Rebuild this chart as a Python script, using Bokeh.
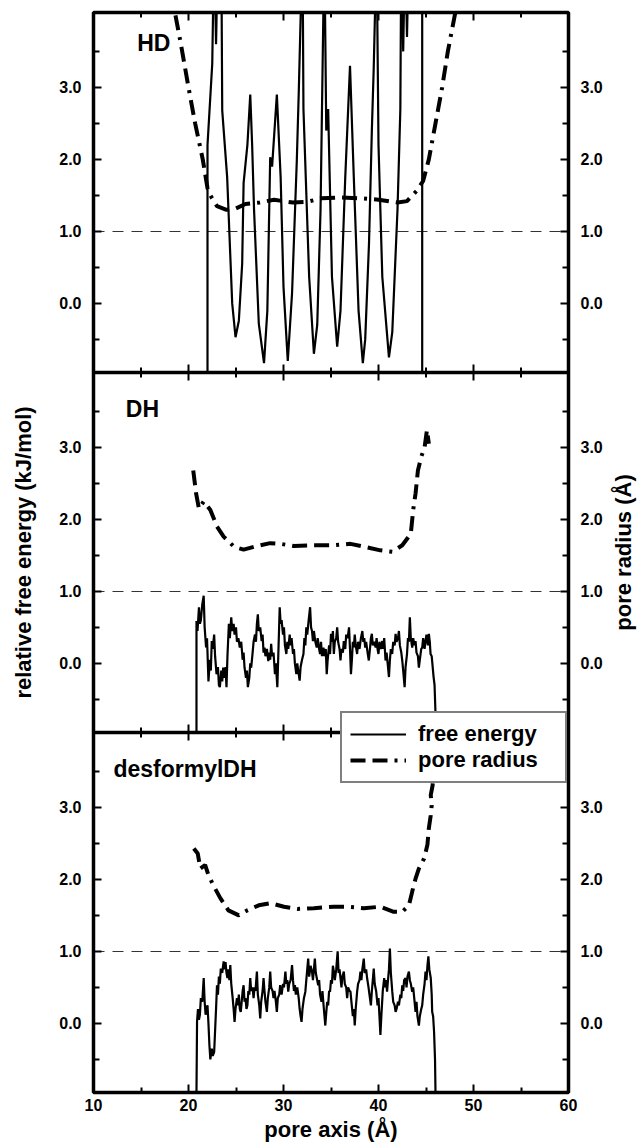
import math
from bokeh.plotting import figure
from bokeh.layouts import row
from bokeh.models import (Range1d, LinearAxis, FixedTicker, CustomJSTickFormatter,
                          Label, Span, Legend, LegendItem)
from bokeh.embed import file_html
from bokeh.resources import INLINE

# ---------------- data ----------------
X_TICKS = [10, 20, 30, 40, 50, 60]
X_MINOR = [15, 25, 35, 45, 55]
Y_TICKS = [0, 1, 2, 3]
Y_MINOR = [-0.5, 0.5, 1.5, 2.5, 3.5]
REF_LEVEL = 1.0
PANELS = ["HD", "DH", "desformylDH"]

# HD: free energy (x, kJ/mol) and pore radius (x, Å)
HD_FREE_ENERGY = [
    (22.0, -0.96), (22.0, 2.2), (22.5, 3.33), (22.7, 5.0), (22.9, 3.6), (23.1, 5.0),
    (23.3, 4.2), (23.45, 5.0), (23.55, 2.68), (24.07, 1.75), (24.6, 0.0), (24.95, -0.47),
    (25.3, -0.24), (25.65, 0.55), (25.8, 1.67), (26.2, 2.2), (26.5, 2.9), (26.7, 2.2),
    (26.9, 1.3), (27.4, -0.28), (27.95, -0.83), (28.3, -0.1), (28.6, 2.03), (28.8, 1.9),
    (29.3, 2.9), (29.7, 1.75), (30.0, 0.23), (30.45, -0.8), (30.9, 0.14), (31.4, 1.98),
    (31.6, 2.9), (32.0, 5.0), (32.1, 2.7), (32.7, 0.37), (33.2, -0.7), (33.55, -0.3),
    (33.9, 1.3), (34.3, 5.0), (34.5, 2.4), (34.7, 2.7), (35.1, 0.37), (35.65, -0.6),
    (36.0, -0.1), (36.5, 1.75), (37.0, 3.3), (37.4, 1.75), (37.9, -0.1), (38.35, -0.83),
    (38.6, -0.5), (39.0, 0.83), (39.3, 2.4), (39.5, 3.28), (39.8, 5.0), (40.0, 2.2),
    (40.4, 0.37), (41.1, -0.75), (41.45, -0.4), (42.0, 1.3), (42.3, 2.7), (42.4, 5.0),
    (42.6, 3.5), (42.8, 5.0), (43.0, 3.7), (43.2, 5.0), (44.6, 5.0), (44.6, -0.96),
]
HD_PORE_RADIUS = [
    (18.2, 4.3), (19.2, 3.6), (20.0, 3.0), (20.7, 2.5), (21.5, 2.0), (22.0, 1.6),
    (22.3, 1.5), (23.0, 1.35), (24.0, 1.3), (25.0, 1.32), (26.0, 1.38), (27.5, 1.4),
    (29.0, 1.44), (31.0, 1.4), (32.5, 1.41), (34.0, 1.46), (36.0, 1.47), (38.0, 1.46),
    (40.0, 1.44), (42.0, 1.4), (43.0, 1.42), (44.0, 1.56), (44.7, 1.7), (45.3, 2.0),
    (46.0, 2.5), (46.7, 3.0), (47.3, 3.5), (48.1, 4.05), (48.3, 4.3),
]

DH_FREE_ENERGY = [
    (20.84, -0.96), (20.84, 0.59), (20.95, 0.45), (21.1, 0.78), (21.2, 0.55), (21.3, 0.6),
    (21.45, 0.82), (21.6, 0.94), (21.7, 0.5), (21.85, 0.22), (21.95, 0.35), (22.1, -0.25),
    (22.25, 0.05), (22.35, -0.1), (22.45, 0.31), (22.55, 0.2), (22.7, 0.4), (22.8, 0.1),
    (22.95, -0.15), (23.1, -0.05), (23.2, -0.3), (23.3, -0.33), (23.45, -0.1), (23.55, -0.25),
    (23.65, -0.06), (23.8, -0.2), (23.9, -0.05), (24.0, -0.33), (24.1, 0.1), (24.25, 0.55),
    (24.35, 0.35), (24.5, 0.64), (24.6, 0.45), (24.75, 0.55), (24.85, 0.4), (25.0, 0.5),
    (25.1, 0.3), (25.25, 0.35), (25.4, 0.22), (25.55, 0.3), (25.7, 0.05), (25.8, 0.15),
    (25.9, -0.06), (26.05, -0.2), (26.15, -0.1), (26.25, -0.33), (26.4, -0.2), (26.5, 0.0),
    (26.6, -0.06), (26.75, 0.15), (26.85, 0.3), (27.0, 0.4), (27.1, 0.3), (27.2, 0.55),
    (27.3, 0.68), (27.4, 0.45), (27.55, 0.5), (27.7, 0.31), (27.8, 0.4), (27.9, 0.15),
    (28.0, 0.22), (28.1, 0.1), (28.25, 0.2), (28.4, 0.03), (28.5, 0.15), (28.6, 0.05),
    (28.7, 0.27), (28.8, 0.1), (28.95, 0.15), (29.1, -0.15), (29.2, 0.0), (29.35, -0.33),
    (29.45, 0.1), (29.6, 0.78), (29.7, 0.55), (29.8, 0.6), (29.95, 0.4), (30.05, 0.5),
    (30.15, 0.25), (30.3, 0.13), (30.4, 0.3), (30.5, 0.2), (30.65, 0.4), (30.75, 0.25),
    (30.85, 0.35), (31.0, 0.13), (31.1, 0.2), (31.2, 0.0), (31.35, -0.15), (31.45, 0.0),
    (31.55, -0.1), (31.7, -0.24), (31.8, -0.05), (31.95, 0.05), (32.1, 0.13), (32.2, 0.35),
    (32.3, 0.25), (32.4, 0.5), (32.5, 0.4), (32.65, 0.6), (32.8, 0.78), (32.9, 0.5),
    (33.0, 0.45), (33.1, 0.31), (33.2, 0.45), (33.35, 0.3), (33.5, 0.22), (33.6, 0.35),
    (33.75, 0.2), (33.85, 0.13), (33.95, 0.3), (34.05, 0.1), (34.2, 0.22), (34.3, 0.1),
    (34.45, 0.2), (34.55, -0.15), (34.65, 0.05), (34.8, 0.25), (34.9, 0.13), (35.0, 0.41),
    (35.1, 0.3), (35.2, 0.45), (35.3, 0.13), (35.4, 0.3), (35.55, 0.35), (35.65, 0.5),
    (35.75, 0.3), (35.9, 0.2), (36.0, 0.04), (36.1, 0.2), (36.25, 0.15), (36.35, 0.31),
    (36.5, 0.2), (36.6, 0.4), (36.75, 0.35), (36.9, 0.5), (37.0, 0.2), (37.1, -0.15),
    (37.2, 0.05), (37.3, 0.3), (37.4, 0.22), (37.5, 0.4), (37.6, 0.25), (37.75, 0.13),
    (37.85, 0.3), (38.0, 0.2), (38.15, 0.35), (38.3, 0.45), (38.4, 0.3), (38.5, 0.35),
    (38.6, 0.22), (38.7, 0.3), (38.85, 0.15), (38.98, 0.04), (39.1, 0.2), (39.2, 0.35),
    (39.3, 0.41), (39.4, 0.25), (39.55, 0.3), (39.7, 0.22), (39.8, 0.35), (39.9, 0.2),
    (40.0, 0.13), (40.1, 0.3), (40.25, 0.2), (40.4, 0.31), (40.5, 0.2), (40.6, 0.35),
    (40.74, 0.04), (40.85, 0.15), (41.0, -0.05), (41.1, -0.19), (41.2, 0.05), (41.3, 0.2),
    (41.44, 0.13), (41.55, 0.3), (41.7, 0.25), (41.8, 0.41), (41.9, 0.3), (42.05, 0.35),
    (42.15, 0.45), (42.25, 0.25), (42.4, 0.15), (42.5, 0.04), (42.6, -0.1), (42.75, -0.33),
    (42.85, -0.05), (43.0, 0.13), (43.1, 0.35), (43.2, 0.3), (43.3, 0.64), (43.4, 0.35),
    (43.55, 0.22), (43.65, 0.35), (43.8, 0.25), (43.9, 0.31), (44.0, 0.15), (44.15, 0.1),
    (44.25, -0.06), (44.35, 0.05), (44.5, 0.2), (44.6, 0.22), (44.7, 0.35), (44.85, 0.2),
    (44.95, 0.31), (45.05, 0.4), (45.2, 0.25), (45.3, 0.41), (45.4, 0.3), (45.48, 0.13),
    (45.6, 0.1), (45.8, -0.19), (45.9, -0.3), (46.0, -0.69), (46.0, -0.96),
]
DH_PORE_RADIUS = [
    (20.5, 2.68), (20.8, 2.36), (21.1, 2.15), (21.6, 2.25), (22.3, 2.13), (23.0, 1.9),
    (23.7, 1.76), (24.8, 1.62), (25.8, 1.58), (26.9, 1.62), (28.6, 1.67), (29.7, 1.66),
    (31.1, 1.63), (33.2, 1.64), (35.3, 1.64), (37.05, 1.66), (38.5, 1.62), (40.2, 1.57),
    (41.45, 1.55), (42.5, 1.64), (43.4, 1.80), (43.65, 2.13), (43.9, 2.36), (44.15, 2.68),
    (44.5, 2.87), (44.85, 3.0), (45.1, 3.24), (45.3, 3.05),
]

DF_FREE_ENERGY = [
    (20.84, -0.96), (20.9, 0.03), (21.0, 0.2), (21.1, 0.05), (21.2, 0.12), (21.3, 0.35),
    (21.45, 0.3), (21.6, 0.63), (21.7, 0.3), (21.8, 0.12), (21.9, 0.2), (22.0, 0.25),
    (22.1, 0.0), (22.2, -0.3), (22.3, -0.5), (22.45, -0.35), (22.55, -0.45), (22.7, -0.4),
    (22.8, -0.1), (22.9, 0.2), (23.0, 0.53), (23.1, 0.4), (23.2, 0.65), (23.3, 0.55),
    (23.4, 0.76), (23.55, 0.7), (23.7, 0.86), (23.8, 0.75), (23.9, 0.85), (24.0, 0.7),
    (24.1, 0.63), (24.2, 0.75), (24.3, 0.6), (24.4, 0.81), (24.5, 0.55), (24.65, 0.35),
    (24.75, 0.2), (24.85, 0.02), (24.95, 0.2), (25.1, 0.35), (25.2, 0.25), (25.3, 0.4),
    (25.4, 0.2), (25.5, 0.16), (25.6, 0.3), (25.7, 0.45), (25.8, 0.53), (25.9, 0.3),
    (26.0, 0.35), (26.1, 0.2), (26.2, 0.25), (26.3, 0.45), (26.4, 0.4), (26.5, 0.63),
    (26.6, 0.45), (26.75, 0.5), (26.85, 0.35), (26.95, 0.5), (27.05, 0.45), (27.2, 0.72),
    (27.3, 0.4), (27.45, 0.25), (27.55, 0.07), (27.65, 0.3), (27.8, 0.45), (27.9, 0.63),
    (28.0, 0.45), (28.1, 0.3), (28.25, 0.16), (28.35, 0.35), (28.5, 0.5), (28.6, 0.72),
    (28.7, 0.5), (28.85, 0.45), (28.95, 0.35), (29.05, 0.45), (29.2, 0.3), (29.3, 0.16),
    (29.4, 0.35), (29.55, 0.4), (29.65, 0.53), (29.8, 0.4), (29.95, 0.55), (30.05, 0.5),
    (30.2, 0.72), (30.3, 0.55), (30.4, 0.6), (30.5, 0.44), (30.6, 0.55), (30.75, 0.6),
    (30.9, 0.81), (31.0, 0.6), (31.1, 0.45), (31.2, 0.53), (31.3, 0.4), (31.45, 0.5),
    (31.6, 0.35), (31.7, 0.2), (31.8, 0.1), (31.9, 0.02), (32.0, 0.2), (32.15, 0.35),
    (32.3, 0.44), (32.4, 0.6), (32.5, 0.75), (32.6, 0.9), (32.7, 0.65), (32.85, 0.8),
    (33.0, 0.72), (33.1, 0.6), (33.2, 0.75), (33.3, 0.9), (33.4, 0.7), (33.55, 0.6),
    (33.65, 0.53), (33.75, 0.6), (33.85, 0.4), (34.0, 0.3), (34.1, 0.45), (34.25, 0.2),
    (34.4, -0.03), (34.5, 0.15), (34.6, 0.3), (34.7, 0.25), (34.8, 0.45), (34.9, 0.44),
    (35.0, 0.6), (35.1, 0.55), (35.2, 0.8), (35.3, 0.72), (35.4, 0.6), (35.55, 0.75),
    (35.7, 1.0), (35.8, 0.7), (35.9, 0.75), (36.0, 0.63), (36.1, 0.5), (36.2, 0.65),
    (36.35, 0.72), (36.45, 0.55), (36.6, 0.5), (36.7, 0.35), (36.8, 0.5), (36.95, 0.45),
    (37.05, 0.44), (37.15, 0.3), (37.3, 0.1), (37.4, 0.2), (37.5, -0.03), (37.6, 0.2),
    (37.75, 0.44), (37.85, 0.55), (38.0, 0.6), (38.1, 0.72), (38.2, 0.6), (38.3, 0.75),
    (38.45, 0.9), (38.55, 0.7), (38.7, 0.75), (38.8, 0.63), (38.95, 0.5), (39.05, 0.4),
    (39.2, 0.25), (39.3, 0.45), (39.4, 0.6), (39.5, 0.76), (39.6, 0.55), (39.75, 0.45),
    (39.9, 0.25), (40.0, 0.35), (40.1, 0.1), (40.2, -0.16), (40.3, 0.1), (40.45, 0.45),
    (40.6, 0.63), (40.7, 0.5), (40.8, 0.6), (40.9, 0.44), (41.0, 0.6), (41.1, 0.75),
    (41.2, 1.04), (41.3, 0.7), (41.45, 0.44), (41.55, 0.3), (41.7, 0.25), (41.8, 0.16),
    (41.9, 0.2), (42.05, 0.3), (42.15, 0.25), (42.3, 0.4), (42.4, 0.35), (42.5, 0.53),
    (42.6, 0.45), (42.7, 0.6), (42.85, 0.63), (42.95, 0.5), (43.05, 0.65), (43.2, 0.72),
    (43.3, 0.6), (43.4, 0.55), (43.55, 0.44), (43.65, 0.5), (43.8, 0.3), (43.9, 0.16),
    (44.0, 0.3), (44.1, 0.1), (44.25, -0.03), (44.35, 0.1), (44.5, 0.2), (44.6, 0.25),
    (44.7, 0.4), (44.85, 0.55), (44.95, 0.72), (45.05, 0.6), (45.15, 0.8), (45.25, 0.93),
    (45.35, 0.75), (45.5, 0.63), (45.6, 0.4), (45.65, 0.16), (45.75, 0.1), (45.85, -0.12),
    (45.95, -0.5), (46.0, -0.96),
]
DF_PORE_RADIUS = [
    (20.56, 2.43), (20.97, 2.36), (21.25, 2.15), (21.75, 2.2), (22.1, 2.06), (22.6, 1.92),
    (23.35, 1.74), (24.2, 1.57), (25.3, 1.5), (26.2, 1.57), (27.4, 1.64), (28.6, 1.67),
    (30.05, 1.62), (31.45, 1.59), (33.2, 1.6), (35.3, 1.62), (36.7, 1.62), (38.45, 1.6),
    (40.2, 1.62), (41.6, 1.55), (42.5, 1.55), (43.2, 1.64), (43.55, 1.83), (43.9, 2.01),
    (44.25, 2.15), (44.8, 2.29), (45.15, 2.48), (45.3, 2.71), (45.5, 2.89), (45.6, 3.03),
    (45.5, 3.17), (45.7, 3.31), (45.75, 3.6),
]

# ---------------- layout ----------------
FONT = "Liberation Sans"
Y_LO = -0.96
STEP = 5
Y_HI = Y_LO + STEP
FRAME_W, FRAME_H = 475, 1080
X_LO, X_HI = 10, 60

p = figure(frame_width=FRAME_W, frame_height=FRAME_H,
           x_range=Range1d(X_LO, X_HI), y_range=Range1d(Y_LO, Y_HI + 2 * STEP),
           output_backend="svg", toolbar_location=None,
           min_border_left=93, min_border_right=36, min_border_top=12, min_border_bottom=53,
           background_fill_color="white", border_fill_color="white")
p.extra_y_ranges = {
    "HD": Range1d(Y_LO - 2 * STEP, Y_HI),
    "DH": Range1d(Y_LO - STEP, Y_HI + STEP),
    "desformylDH": Range1d(Y_LO, Y_HI + 2 * STEP),
}
p.grid.visible = False
p.outline_line_color = "black"
p.outline_line_width = 3.5

offsets = [2 * STEP, STEP, 0]
y_major = [v + o for o in offsets for v in Y_TICKS]
y_minor = [v + o for o in offsets for v in Y_MINOR]
fmt = CustomJSTickFormatter(code="return (Math.round(tick) % 5).toFixed(1);")


def style_axis(ax, major_in, minor_in):
    ax.axis_line_color = None
    ax.major_tick_in = major_in
    ax.major_tick_out = 0
    ax.minor_tick_in = minor_in
    ax.minor_tick_out = 0
    ax.major_tick_line_width = 2
    ax.minor_tick_line_width = 2
    ax.major_tick_line_color = "black"
    ax.minor_tick_line_color = "black"
    ax.major_label_text_font = FONT
    ax.major_label_text_font_style = "bold"
    ax.major_label_text_font_size = "16px"
    ax.major_label_text_color = "black"
    ax.axis_label_text_font = FONT
    ax.axis_label_text_font_style = "bold"
    ax.axis_label_text_font_size = "22px"
    ax.axis_label_text_color = "black"


# left axis
yl = p.yaxis[0]
yl.ticker = FixedTicker(ticks=y_major, minor_ticks=y_minor)
yl.formatter = fmt
style_axis(yl, 8, 6)
yl.major_label_standoff = 12
yl.axis_label = "relative free energy (kJ/mol)"
yl.axis_label_standoff = 20

# right axis (tick labels only; its title sits in the narrow strip figure below)
yr = LinearAxis(ticker=FixedTicker(ticks=y_major, minor_ticks=y_minor), formatter=fmt)
style_axis(yr, 8, 6)
yr.major_label_standoff = 12
p.add_layout(yr, "right")

# bottom axis
xb = p.xaxis[0]
xb.ticker = FixedTicker(ticks=X_TICKS, minor_ticks=X_MINOR)
style_axis(xb, 8, 5)
xb.major_label_standoff = 6
xb.axis_label = "pore axis (Å)"
xb.axis_label_standoff = 3

# panel borders (internal) and inward x ticks on internal and top edges
for k in (1, 2, 3):
    b = Y_HI + (k - 1) * STEP
    if k < 3:
        p.add_layout(Span(location=b, dimension="width", line_color="black", line_width=3.5))
    p.scatter(x=X_TICKS, y=[b] * len(X_TICKS), marker="dash", angle=math.pi / 2,
              size=16, line_color="black", line_width=2)
    p.scatter(x=X_MINOR, y=[b] * len(X_MINOR), marker="dash", angle=math.pi / 2,
              size=10, line_color="black", line_width=2)

series = {
    "HD": (HD_FREE_ENERGY, HD_PORE_RADIUS),
    "DH": (DH_FREE_ENERGY, DH_PORE_RADIUS),
    "desformylDH": (DF_FREE_ENERGY, DF_PORE_RADIUS),
}
label_pos = {"HD": (14.6, 3.61), "DH": (13.4, 3.53), "desformylDH": (12.1, 3.54)}

fe_r = None
pr_r = None
for name in PANELS:
    fe, pr = series[name]
    p.hspan(y=[REF_LEVEL], y_range_name=name, line_color="#333333", line_width=1,
            line_dash="11 8")
    fe_r = p.line([a for a, _ in fe], [b for _, b in fe], y_range_name=name,
                  line_color="black", line_width=2.2)
    pr_r = p.line([a for a, _ in pr], [b for _, b in pr], y_range_name=name,
                  line_color="black", line_width=4, line_dash="15 7 15 7 3 7")
    lx, ly = label_pos[name]
    p.add_layout(Label(x=lx, y=ly, y_range_name=name, text=name, text_font=FONT,
                       text_font_style="bold", text_font_size="23px",
                       text_baseline="middle", text_color="black"))

legend = Legend(items=[LegendItem(label="free energy", renderers=[fe_r]),
                       LegendItem(label="pore radius", renderers=[pr_r])],
                location=(247, 309))
legend.label_text_font = FONT
legend.label_text_font_style = "bold"
legend.label_text_font_size = "22px"
legend.label_text_color = "black"
legend.glyph_width = 56
legend.glyph_height = 20
legend.label_height = 20
legend.label_width = 139
legend.label_standoff = 12
legend.padding = 8
legend.spacing = 0
legend.margin = 0
legend.border_line_color = "black"
legend.border_line_width = 2
legend.background_fill_color = "white"
legend.background_fill_alpha = 1.0
p.add_layout(legend)

# narrow strip on the right carrying the right-hand title (reads bottom-to-top)
p2 = figure(frame_width=1, frame_height=FRAME_H, x_range=Range1d(0, 1),
            y_range=Range1d(Y_LO, Y_HI + 2 * STEP),
            output_backend="svg", toolbar_location=None,
            min_border_left=33, min_border_right=0, min_border_top=12, min_border_bottom=53,
            background_fill_color="white", border_fill_color="white")
p2.outline_line_color = None
p2.grid.visible = False
p2.xaxis.visible = False
ya2 = p2.yaxis[0]
ya2.ticker = FixedTicker(ticks=[])
style_axis(ya2, 0, 0)
ya2.major_label_standoff = 0
ya2.axis_label = "pore radius (Å)"
ya2.axis_label_standoff = 3

layout = row(p, p2, spacing=0)
open("out.html", "w").write(file_html(layout, INLINE))
